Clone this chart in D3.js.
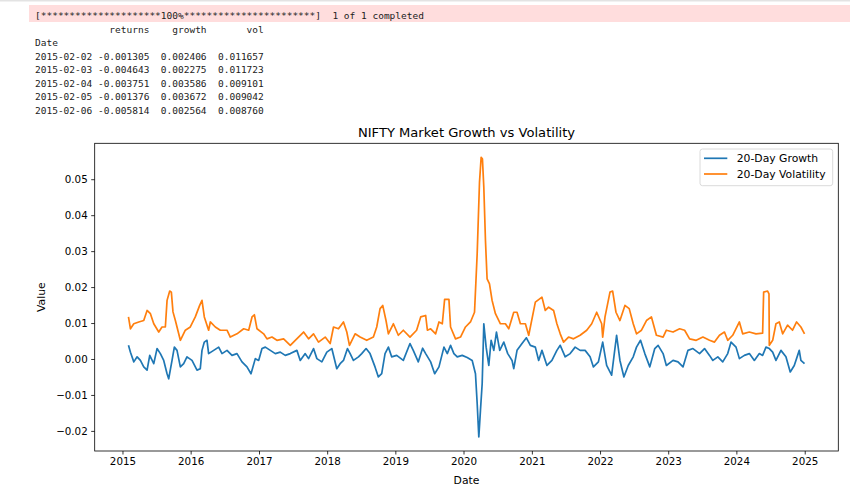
<!DOCTYPE html>
<html lang="en">
<head>
    <meta charset="UTF-8">
    <title>NIFTY Market Growth vs Volatility</title>
    <style>
        body {
            margin: 0;
            background: #FFFFFF;
        }
        .mono {
            font-family: "DejaVu Sans Mono", monospace;
            font-size: 9.5px;
            fill: #222;
            white-space: pre;
        }
        .plotText {
            font-family: "DejaVu Sans", sans-serif;
            fill: #000;
        }
    </style>
</head>
<body>
<div id="chart"></div>
</body>
<script src="https://d3js.org/d3.v7.min.js"></script>
<script>
    // notebook output above the plot
    const progressLine = "[*********************100%***********************]  1 of 1 completed";
    const tableLines = [
        "             returns    growth       vol",
        "Date",
        "2015-02-02 -0.001305  0.002406  0.011657",
        "2015-02-03 -0.004643  0.002275  0.011723",
        "2015-02-04 -0.003751  0.003586  0.009101",
        "2015-02-05 -0.001376  0.003672  0.009042",
        "2015-02-06 -0.005814  0.002564  0.008760"
    ];

    const chartTitle = "NIFTY Market Growth vs Volatility";
    const seriesNames = ["20-Day Growth", "20-Day Volatility"];
    const seriesColors = ["#1f77b4", "#ff7f0e"];
    const yearTicks = [2015, 2016, 2017, 2018, 2019, 2020, 2021, 2022, 2023, 2024, 2025];
    const valueTicks = [-0.02, -0.01, 0.00, 0.01, 0.02, 0.03, 0.04, 0.05];

    // [decimal year, value]
    const growthPoints = [
        [2015.088, 0.0038], [2015.117, 0.0019], [2015.166, -0.0008], [2015.215, 0.0006], [2015.263, -0.0004],
        [2015.312, -0.0022], [2015.361, -0.0031], [2015.400, 0.0010], [2015.459, -0.0013], [2015.507, 0.0029],
        [2015.556, 0.0015], [2015.605, -0.0004], [2015.654, -0.0041], [2015.678, -0.0055], [2015.727, -0.0004],
        [2015.761, 0.0033], [2015.800, 0.0024], [2015.849, -0.0022], [2015.898, -0.0013], [2015.946, 0.0006],
        [2016.020, -0.0004], [2016.093, -0.0031], [2016.141, -0.0027], [2016.166, 0.0024], [2016.200, 0.0047],
        [2016.239, 0.0052], [2016.263, 0.0015], [2016.337, 0.0024], [2016.410, 0.0033], [2016.459, 0.0015],
        [2016.532, 0.0024], [2016.605, 0.0010], [2016.678, 0.0015], [2016.751, -0.0008], [2016.824, -0.0022],
        [2016.883, -0.0041], [2016.946, 0.0001], [2016.995, -0.0004], [2017.044, 0.0029], [2017.093, 0.0033],
        [2017.166, 0.0024], [2017.239, 0.0015], [2017.312, 0.0019], [2017.385, 0.0010], [2017.459, 0.0015],
        [2017.556, 0.0024], [2017.605, -0.0004], [2017.678, 0.0015], [2017.727, 0.0001], [2017.800, 0.0029],
        [2017.849, 0.0001], [2017.922, -0.0008], [2017.995, 0.0019], [2018.068, 0.0029], [2018.141, -0.0027],
        [2018.190, -0.0013], [2018.239, -0.0004], [2018.298, 0.0029], [2018.337, 0.0015], [2018.385, -0.0004],
        [2018.459, 0.0006], [2018.507, 0.0015], [2018.571, 0.0029], [2018.629, 0.0015], [2018.702, -0.0022],
        [2018.751, -0.0050], [2018.800, -0.0041], [2018.849, 0.0015], [2018.898, 0.0033], [2018.946, 0.0006],
        [2019.020, 0.0010], [2019.117, -0.0004], [2019.215, 0.0043], [2019.263, 0.0024], [2019.337, -0.0008],
        [2019.400, 0.0030], [2019.445, 0.0015], [2019.518, -0.0008], [2019.577, -0.0041], [2019.640, -0.0022],
        [2019.713, 0.0033], [2019.762, 0.0015], [2019.810, 0.0038], [2019.859, 0.0015], [2019.908, 0.0006],
        [2019.981, 0.0010], [2020.054, 0.0004], [2020.127, -0.0004], [2020.175, -0.0041], [2020.200, -0.0124],
        [2020.224, -0.0217], [2020.248, -0.0143], [2020.273, -0.0069], [2020.297, 0.0098], [2020.331, 0.0033],
        [2020.370, -0.0018], [2020.404, 0.0052], [2020.443, 0.0024], [2020.482, 0.0075], [2020.530, 0.0024],
        [2020.589, 0.0047], [2020.647, 0.0015], [2020.710, -0.0004], [2020.735, -0.0027], [2020.783, 0.0024],
        [2020.856, 0.0043], [2020.920, 0.0059], [2020.978, 0.0038], [2021.051, 0.0033], [2021.100, -0.0004],
        [2021.148, 0.0024], [2021.221, -0.0018], [2021.294, -0.0004], [2021.367, 0.0024], [2021.416, 0.0038],
        [2021.489, 0.0006], [2021.562, 0.0015], [2021.635, 0.0033], [2021.708, 0.0024], [2021.781, 0.0024],
        [2021.854, 0.0006], [2021.903, -0.0022], [2021.976, -0.0008], [2022.039, 0.0047], [2022.097, -0.0018],
        [2022.170, -0.0045], [2022.243, 0.0066], [2022.292, -0.0004], [2022.350, -0.0050], [2022.414, -0.0018],
        [2022.487, 0.0006], [2022.535, 0.0033], [2022.594, 0.0052], [2022.657, 0.0015], [2022.730, -0.0022],
        [2022.803, 0.0029], [2022.852, 0.0038], [2022.925, 0.0015], [2022.973, -0.0018], [2023.071, -0.0004],
        [2023.144, -0.0008], [2023.217, -0.0022], [2023.290, 0.0024], [2023.363, 0.0029], [2023.460, 0.0015],
        [2023.533, 0.0029], [2023.606, 0.0010], [2023.655, -0.0004], [2023.728, 0.0006], [2023.800, -0.0008],
        [2023.873, 0.0015], [2023.922, 0.0047], [2023.995, 0.0033], [2024.044, 0.0001], [2024.117, 0.0010],
        [2024.190, 0.0015], [2024.263, -0.0004], [2024.336, 0.0015], [2024.384, 0.0010], [2024.433, 0.0033],
        [2024.482, 0.0029], [2024.531, 0.0019], [2024.579, -0.0004], [2024.652, 0.0024], [2024.725, 0.0006],
        [2024.788, -0.0036], [2024.847, -0.0018], [2024.920, 0.0024], [2024.944, -0.0004], [2024.997, -0.0013]
    ];

    const volPoints = [
        [2015.088, 0.0117], [2015.117, 0.0084], [2015.166, 0.0098], [2015.239, 0.0103], [2015.312, 0.0107],
        [2015.361, 0.0135], [2015.410, 0.0126], [2015.459, 0.0098], [2015.532, 0.0075], [2015.580, 0.0089],
        [2015.629, 0.0089], [2015.654, 0.0163], [2015.693, 0.0189], [2015.717, 0.0186], [2015.741, 0.0131],
        [2015.776, 0.0107], [2015.849, 0.0052], [2015.922, 0.0080], [2015.995, 0.0089], [2016.068, 0.0117],
        [2016.132, 0.0149], [2016.166, 0.0163], [2016.200, 0.0117], [2016.263, 0.0080], [2016.288, 0.0103],
        [2016.361, 0.0089], [2016.434, 0.0080], [2016.532, 0.0080], [2016.580, 0.0061], [2016.678, 0.0070],
        [2016.776, 0.0084], [2016.849, 0.0080], [2016.898, 0.0117], [2016.932, 0.0123], [2016.971, 0.0084],
        [2017.068, 0.0070], [2017.117, 0.0056], [2017.190, 0.0061], [2017.263, 0.0052], [2017.361, 0.0056],
        [2017.459, 0.0038], [2017.532, 0.0052], [2017.654, 0.0075], [2017.727, 0.0056], [2017.800, 0.0070],
        [2017.873, 0.0047], [2017.971, 0.0061], [2018.044, 0.0043], [2018.093, 0.0089], [2018.166, 0.0084],
        [2018.239, 0.0103], [2018.288, 0.0075], [2018.327, 0.0038], [2018.410, 0.0070], [2018.483, 0.0061],
        [2018.580, 0.0052], [2018.678, 0.0061], [2018.727, 0.0089], [2018.776, 0.0140], [2018.815, 0.0149],
        [2018.863, 0.0107], [2018.898, 0.0070], [2018.971, 0.0098], [2019.044, 0.0066], [2019.117, 0.0080],
        [2019.215, 0.0061], [2019.312, 0.0080], [2019.372, 0.0117], [2019.445, 0.0121], [2019.470, 0.0080],
        [2019.518, 0.0084], [2019.591, 0.0070], [2019.640, 0.0103], [2019.689, 0.0098], [2019.723, 0.0166],
        [2019.786, 0.0166], [2019.810, 0.0089], [2019.883, 0.0056], [2019.956, 0.0061], [2020.029, 0.0089],
        [2020.102, 0.0103], [2020.161, 0.0130], [2020.200, 0.0293], [2020.234, 0.0492], [2020.258, 0.0561],
        [2020.277, 0.0556], [2020.297, 0.0478], [2020.321, 0.0330], [2020.345, 0.0223], [2020.380, 0.0209],
        [2020.418, 0.0163], [2020.467, 0.0126], [2020.540, 0.0098], [2020.613, 0.0098], [2020.662, 0.0084],
        [2020.735, 0.0130], [2020.783, 0.0130], [2020.832, 0.0098], [2020.905, 0.0098], [2020.954, 0.0066],
        [2021.051, 0.0158], [2021.148, 0.0172], [2021.197, 0.0135], [2021.246, 0.0144], [2021.319, 0.0135],
        [2021.367, 0.0098], [2021.416, 0.0070], [2021.465, 0.0047], [2021.538, 0.0061], [2021.611, 0.0056],
        [2021.708, 0.0066], [2021.805, 0.0080], [2021.878, 0.0098], [2021.951, 0.0130], [2022.024, 0.0098],
        [2022.039, 0.0061], [2022.073, 0.0117], [2022.146, 0.0186], [2022.185, 0.0189], [2022.234, 0.0130],
        [2022.292, 0.0107], [2022.365, 0.0149], [2022.428, 0.0140], [2022.487, 0.0098], [2022.535, 0.0070],
        [2022.608, 0.0080], [2022.681, 0.0107], [2022.754, 0.0117], [2022.827, 0.0066], [2022.925, 0.0061],
        [2022.973, 0.0080], [2023.071, 0.0075], [2023.168, 0.0084], [2023.241, 0.0080], [2023.314, 0.0056],
        [2023.411, 0.0052], [2023.509, 0.0061], [2023.606, 0.0052], [2023.679, 0.0047], [2023.752, 0.0066],
        [2023.825, 0.0075], [2023.873, 0.0052], [2023.946, 0.0066], [2024.044, 0.0103], [2024.092, 0.0070],
        [2024.190, 0.0075], [2024.287, 0.0070], [2024.384, 0.0072], [2024.399, 0.0186], [2024.457, 0.0189],
        [2024.477, 0.0181], [2024.482, 0.0038], [2024.531, 0.0052], [2024.579, 0.0098], [2024.628, 0.0103],
        [2024.677, 0.0070], [2024.749, 0.0094], [2024.822, 0.0080], [2024.881, 0.0103], [2024.944, 0.0089],
        [2024.997, 0.0070]
    ];

    // decimal year -> Date
    function toDate(t) {
        const yr = Math.floor(t);
        const a = new Date(yr, 0, 1).getTime(), b = new Date(yr + 1, 0, 1).getTime();
        return new Date(a + (t - yr) * (b - a));
    }

    const width = 850, height = 489;
    const plot = {left: 94.7, right: 838.3, top: 143.3, bottom: 451};

    const svg = d3.select("#chart")
        .append("svg")
        .attr("width", width)
        .attr("height", height);

    // ---- notebook text output ----
    svg.append("rect")
        .attr("x", 0).attr("y", 0)
        .attr("width", width).attr("height", 1.5)
        .attr("fill", "#e3e3e3");

    svg.append("rect")
        .attr("x", 29).attr("y", 5)
        .attr("width", width - 29).attr("height", 17)
        .attr("fill", "#ffdddd");

    svg.append("text")
        .attr("class", "mono")
        .attr("x", 35).attr("y", 19)
        .text(progressLine);

    svg.selectAll(".tableLine")
        .data(tableLines)
        .join("text")
        .attr("class", "mono tableLine")
        .attr("x", 35)
        .attr("y", (d, i) => 32.5 + i * 13.5)
        .text(d => d);

    // ---- chart ----
    const allPoints = growthPoints.concat(volPoints);
    const tExt = d3.extent(allPoints, d => d[0]);
    const vExt = d3.extent(allPoints, d => d[1]);
    const tPad = (tExt[1] - tExt[0]) * 0.05, vPad = (vExt[1] - vExt[0]) * 0.05;

    const x = d3.scaleTime()
        .domain([toDate(tExt[0] - tPad), toDate(tExt[1] + tPad)])
        .range([plot.left, plot.right]);

    const y = d3.scaleLinear()
        .domain([vExt[0] - vPad, vExt[1] + vPad])
        .range([plot.bottom, plot.top]);

    const fmt = d => (d < 0 ? "\u2212" : "") + Math.abs(d).toFixed(2);

    const xAxis = svg.append("g")
        .attr("transform", `translate(0, ${plot.bottom})`)
        .call(d3.axisBottom(x)
            .tickValues(yearTicks.map(v => new Date(v, 0, 1)))
            .tickFormat(d3.timeFormat("%Y"))
            .tickSize(3.5)
            .tickPadding(3.5));

    const yAxis = svg.append("g")
        .attr("transform", `translate(${plot.left}, 0)`)
        .call(d3.axisLeft(y)
            .tickValues(valueTicks)
            .tickFormat(fmt)
            .tickSize(3.5)
            .tickPadding(3.5));

    [xAxis, yAxis].forEach(function (g) {
        g.select(".domain").remove();
        g.selectAll(".tick line").attr("stroke", "#000").attr("stroke-width", 0.8);
        g.selectAll(".tick text")
            .attr("fill", "#000")
            .style("font-family", "DejaVu Sans, sans-serif")
            .style("font-size", "10.3px");
    });

    const line = d3.line()
        .x(d => x(toDate(d[0])))
        .y(d => y(d[1]));

    svg.selectAll(".series")
        .data([growthPoints, volPoints])
        .join("path")
        .attr("class", "series")
        .attr("d", line)
        .attr("fill", "none")
        .attr("stroke", (d, i) => seriesColors[i])
        .attr("stroke-width", 1.7)
        .attr("stroke-linejoin", "round");

    // frame
    svg.append("rect")
        .attr("x", plot.left).attr("y", plot.top)
        .attr("width", plot.right - plot.left)
        .attr("height", plot.bottom - plot.top)
        .attr("fill", "none")
        .attr("stroke", "#000")
        .attr("stroke-width", 0.8);

    svg.append("text")
        .attr("class", "plotText")
        .attr("x", (plot.left + plot.right) / 2)
        .attr("y", 137)
        .attr("text-anchor", "middle")
        .style("font-size", "13.1px")
        .text(chartTitle);

    svg.append("text")
        .attr("class", "plotText")
        .attr("x", (plot.left + plot.right) / 2)
        .attr("y", 484)
        .attr("text-anchor", "middle")
        .style("font-size", "10.8px")
        .text("Date");

    svg.append("text")
        .attr("class", "plotText")
        .attr("transform", `translate(45, ${(plot.top + plot.bottom) / 2}) rotate(-90)`)
        .attr("text-anchor", "middle")
        .style("font-size", "10.8px")
        .text("Value");

    // legend
    const legend = svg.append("g").attr("transform", "translate(700, 149)");
    legend.append("rect")
        .attr("width", 132.7).attr("height", 36.7)
        .attr("rx", 2.5)
        .attr("fill", "#fff").attr("fill-opacity", 0.8)
        .attr("stroke", "#d0d0d0").attr("stroke-width", 0.8);

    const items = legend.selectAll(".item")
        .data(seriesNames)
        .join("g")
        .attr("class", "item")
        .attr("transform", (d, i) => `translate(0, ${9.3 + i * 15.7})`);

    items.append("line")
        .attr("x1", 4).attr("x2", 27.3)
        .attr("stroke", (d, i) => seriesColors[i])
        .attr("stroke-width", 1.7);

    items.append("text")
        .attr("class", "plotText")
        .attr("x", 36.7).attr("y", 3.8)
        .style("font-size", "10.8px")
        .text(d => d);
</script>
</html>
